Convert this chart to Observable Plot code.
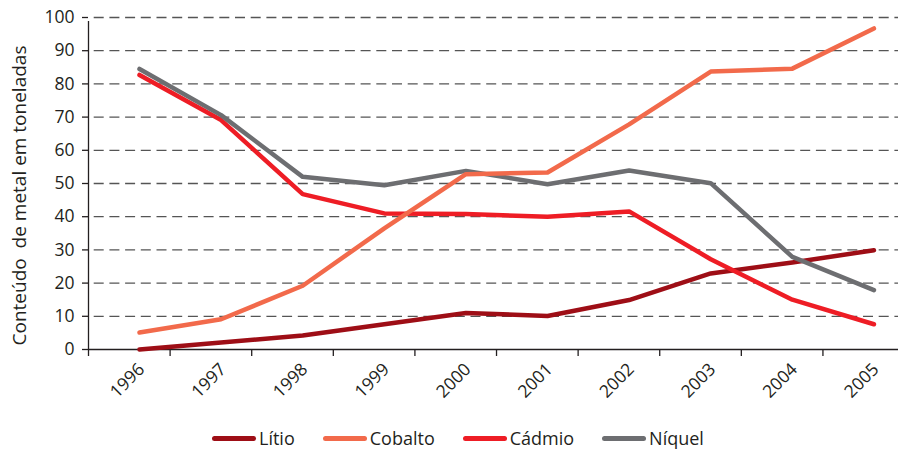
<!DOCTYPE html>
<html>
<head>
<meta charset="utf-8">
<script src="https://cdn.jsdelivr.net/npm/d3@7"></script>
<script src="https://cdn.jsdelivr.net/npm/@observablehq/plot@0.6"></script>
<style>
  html, body { margin: 0; padding: 0; background: #fff; }
  body { width: 898px; font-family: "Open Sans", sans-serif; color: #231f20; }
  #legend { display: flex; align-items: center; height: 24px; padding-top: 4px; padding-left: 212px; font-size: 18px; line-height: 24px; }
  .item { display: flex; align-items: center; margin-right: 28px; }
  .sw { width: 44px; height: 5px; border-radius: 3px; margin-right: 3px; }
</style>
</head>
<body>
<div id="chart"></div>
<div id="legend"></div>
<script>
const years = [1996, 1997, 1998, 1999, 2000, 2001, 2002, 2003, 2004, 2005];
const litio   = [0, 2.1, 4.2, 7.6, 11, 10.1, 14.9, 22.9, 26.2, 29.9];
const cobalto = [5.1, 9.1, 19.2, 36.5, 52.8, 53.3, 67.8, 83.7, 84.6, 96.7];
const cadmio  = [82.7, 69.1, 46.8, 41, 40.8, 40, 41.6, 27.2, 15, 7.6];
const niquel  = [84.5, 70.6, 52, 49.5, 53.8, 49.8, 53.9, 50.1, 27.9, 17.9];
const seriesNames = ["Lítio", "Cobalto", "Cádmio", "Níquel"];
const seriesColors = ["#9e0e16", "#f26a4b", "#ee1d25", "#6d6e71"];
const yTicks = [0, 10, 20, 30, 40, 50, 60, 70, 80, 90, 100];
const yLabel = "Conteúdo\u00a0 de metal em toneladas";

const valuesByName = {"Lítio": litio, "Cobalto": cobalto, "Cádmio": cadmio, "Níquel": niquel};
const rows = seriesNames.flatMap(name => years.map((yr, i) => ({name, year: yr, value: valuesByName[name][i]})));
const drawOrder = ["Lítio", "Cádmio", "Níquel", "Cobalto"];

const shift = 0.625; // band boundary offset of ticks relative to points
const xDomain = [years[0] - shift, years[0] - shift + 9.926];
const bounds = years.map(y => y - shift);

const chart = Plot.plot({
  width: 898,
  height: 422,
  marginLeft: 88,
  marginRight: 0,
  marginTop: 17,
  marginBottom: 73,
  style: {fontFamily: "Open Sans, sans-serif", fontSize: "17px", color: "#231f20", background: "#fff"},
  x: {type: "linear", domain: xDomain, axis: null},
  y: {domain: [0, 100], axis: null},
  color: {domain: seriesNames, range: seriesColors},
  marks: [
    Plot.ruleY(yTicks.filter(d => d > 0), {stroke: "#555", strokeWidth: 1.3, strokeDasharray: "10,5.7", strokeDashoffset: 10}),
    Plot.axisY(yTicks, {tickSize: 6, tickPadding: 8, stroke: "#231f20", strokeWidth: 1.3, fontSize: 17.5, label: null}),
    Plot.axisX(bounds, {tickSize: 7, tickFormat: () => "", stroke: "#231f20", strokeWidth: 1.3, label: null}),
    Plot.ruleY([0], {stroke: "#231f20", strokeWidth: 1.3}),
    Plot.ruleX([xDomain[0]], {y1: 0, y2: 100, stroke: "#231f20", strokeWidth: 1.3, insetBottom: -4}),
    ...drawOrder.map(name => Plot.line(rows.filter(r => r.name === name), {
      x: "year", y: "value", stroke: "name", strokeWidth: 4.5,
      strokeLinecap: "round", strokeLinejoin: "round"
    })),
    Plot.text(years, {x: d => d, frameAnchor: "bottom", text: d => String(d), rotate: -45,
      textAnchor: "end", lineAnchor: "middle", dx: 2, dy: 17, fontSize: 17.5, fill: "#231f20"}),
    Plot.text([yLabel], {frameAnchor: "left", text: d => d, rotate: -90, dx: -69, dy: 12,
      textAnchor: "middle", lineAnchor: "middle", fontSize: 19, fill: "#231f20"})
  ]
});
document.getElementById("chart").appendChild(chart);

const legend = document.getElementById("legend");
seriesNames.forEach((name, i) => {
  const item = document.createElement("div");
  item.className = "item";
  const sw = document.createElement("div");
  sw.className = "sw";
  sw.style.background = seriesColors[i];
  const label = document.createElement("span");
  label.textContent = name;
  item.appendChild(sw);
  item.appendChild(label);
  legend.appendChild(item);
});
</script>
</body>
</html>
